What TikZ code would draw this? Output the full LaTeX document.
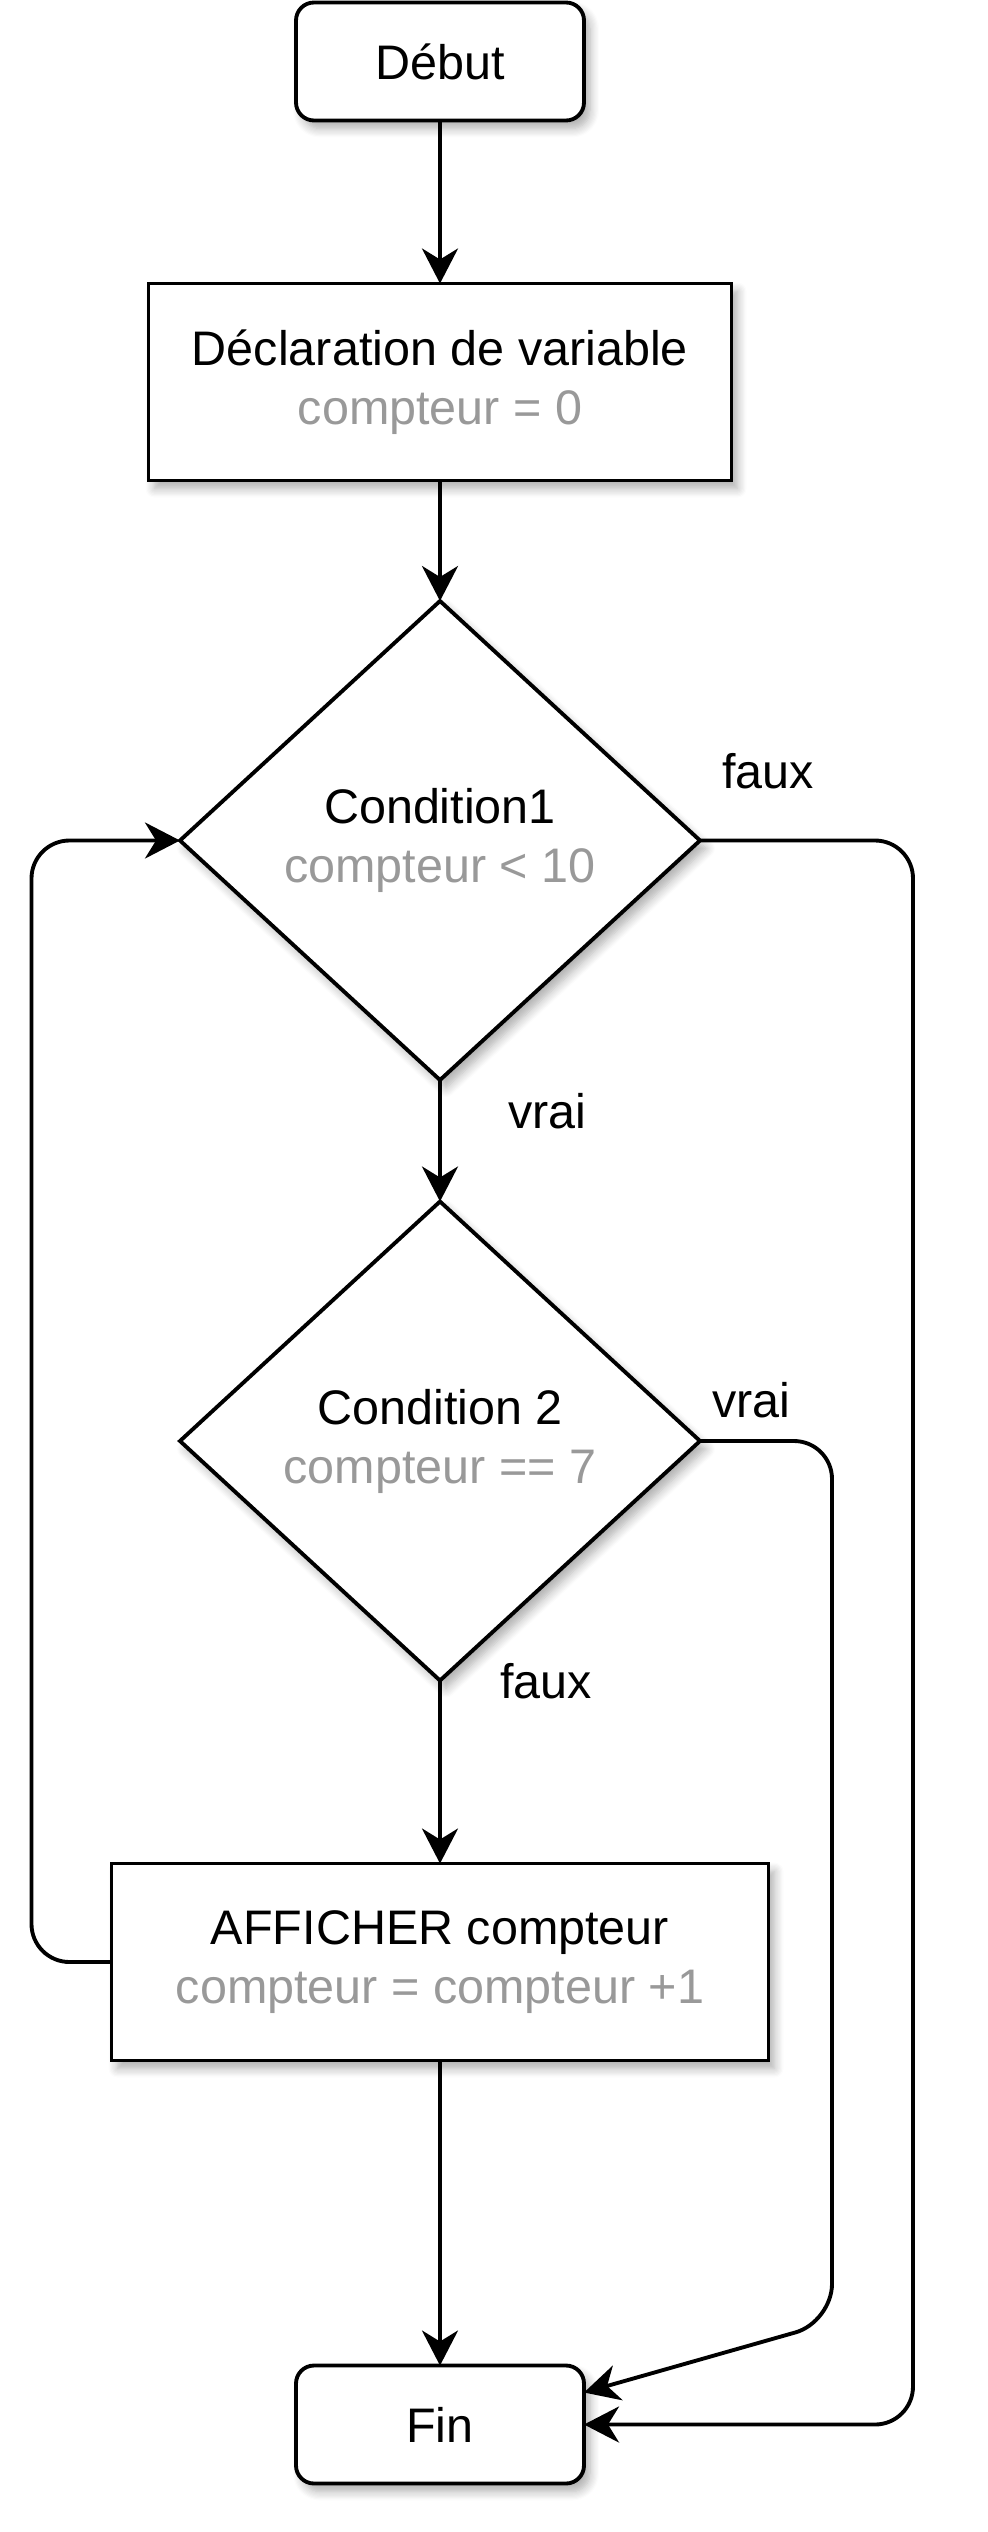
\documentclass[tikz,border=0pt]{standalone}
\usepackage{fontspec}
\setmainfont{Liberation Sans}
\usepackage{tikz}
\usetikzlibrary{positioning,shapes.geometric,arrows.meta,shadows.blur}
\definecolor{lightgrey}{HTML}{999999}

\begin{document}
\begin{tikzpicture}[font=\fontsize{13.8pt}{16.8pt}\selectfont,
                line width=1.1pt,
                every node/.style={outer sep=0pt},
                box/.style={draw, fill=white, align=center,
                    minimum width=5.83cm, minimum height=1.97cm,
                    blur shadow={shadow xshift=0.06cm, shadow yshift=-0.08cm,
                        shadow blur steps=8, shadow blur radius=0.09cm, shadow opacity=32}},
                terminal/.style={box, rounded corners=0.18cm,
                    minimum width=2.88cm, minimum height=1.18cm},
                test/.style={box, diamond, inner sep=0pt,
                    minimum width=5.2cm, minimum height=4.79cm},
                flow/.style={-{Stealth[length=0.35cm, width=0.36cm, inset=0.11cm]},
                    rounded corners=0.38cm},
                lbl/.style={inner sep=0pt, anchor=base west}]
            \useasboundingbox (0,0) rectangle (9.88,-25.32);
            \node[terminal] (debut) at (4.4,-0.615) {Début};
            \node[box, below=1.63cm of debut] (decl)
                {Déclaration de variable\\\textcolor{lightgrey}{compteur = 0}};
            \node[test, below=1.205cm of decl] (cond1)
                {Condition1\\\textcolor{lightgrey}{compteur < 10}};
            \node[test, below=1.215cm of cond1] (cond2)
                {Condition 2\\\textcolor{lightgrey}{compteur == 7}};
            \node[box, minimum width=6.57cm, below=1.83cm of cond2] (affiche)
                {AFFICHER compteur\\\textcolor{lightgrey}{compteur = compteur +1}};
            \node[terminal, below=3.05cm of affiche] (fin) {Fin};

            % straight down
            \draw[flow] (debut.south) -- (decl.north);
            \draw[flow] (decl.south) -- (cond1.north);
            \draw[flow] (cond1.south) -- (cond2.north);
            \draw[flow] (cond2.south) -- (affiche.north);
            \draw[flow] (affiche.south) -- (fin.north);

            % loop back and exits
            \draw[flow] (affiche.west) -- ++(-0.8,0) |- (cond1.west);
            \draw[flow] (cond1.east) -- ++(2.13,0) |- (fin.east);
            \draw[flow] (cond2.east) -- ++(1.32,0) -- ++(0,-8.81)
                -- ([yshift=0.32cm]fin.east);

            \node[lbl] (faux1) at ([xshift=0.22cm, yshift=0.52cm]cond1.east) {faux};
            \node[lbl] (vrai1) at ([xshift=0.68cm, yshift=-0.485cm]cond1.south) {vrai};
            \node[lbl] (vrai2) at ([xshift=0.12cm, yshift=0.24cm]cond2.east) {vrai};
            \node[lbl] (faux2) at ([xshift=0.60cm, yshift=-0.175cm]cond2.south) {faux};
        \end{tikzpicture}
\end{document}
